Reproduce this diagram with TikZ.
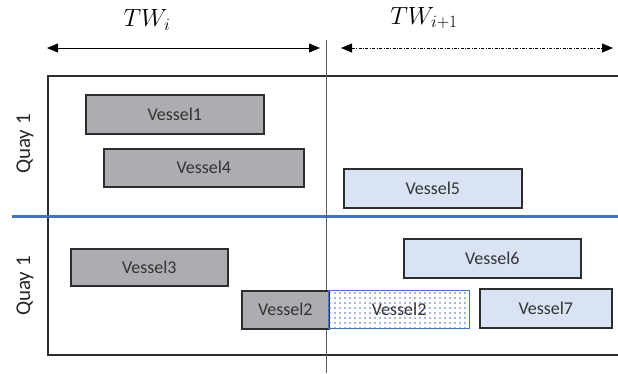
\documentclass[tikz,border=0pt]{standalone}
\usepackage{fontspec}
\setmainfont{Carlito}
\usetikzlibrary{arrows.meta,patterns.meta,positioning}
\definecolor{busygray}{RGB}{174,172,176}
\definecolor{nextblue}{RGB}{218,227,243}
\definecolor{quayblue}{RGB}{68,114,196}
\definecolor{edgegray}{RGB}{45,45,45}
\tikzstyle{Busy} = [draw=edgegray, line width=1.6pt, fill=busygray, rectangle, inner sep=0pt, anchor=north west, font=\fontsize{18}{18}\selectfont, text=black!80]
\tikzstyle{Next} = [Busy, fill=nextblue]
\tikzstyle{Shift} = [Busy, draw=quayblue, line width=1.3pt, pattern={Dots[distance=5pt,radius=0.9pt]}, pattern color=quayblue]
\tikzstyle{Quay} = [rotate=90, font=\fontsize{21}{21}\selectfont, text=black!85]
\tikzstyle{Span} = [{Triangle[length=11pt,width=9pt]}-{Triangle[length=11pt,width=9pt]}, line width=0.8pt, black]

\begin{document}
\begin{tikzpicture}[x=1pt, y=-1pt]
    \useasboundingbox (0,0) rectangle (618,373);
    % time windows
    \node (twi)  at (147,20) {\fontsize{23}{23}\selectfont $TW_i$};
    \node (twn)  at (424,18) {\fontsize{23}{23}\selectfont $TW_{i+1}$};
    \coordinate (a1) at (47,48);
    \coordinate (b1) at (320,48);
    \coordinate (a2) at (341,48);
    \coordinate (b2) at (613,48);
    \draw[Span] (a1) -- (b1);
    \draw[Span, dash pattern=on 3pt off 1.5pt on 0.8pt off 1.5pt] (a2) -- (b2);
    % frame
    \coordinate (tl) at (48,76);
    \coordinate (tr) at (618,76);
    \coordinate (bl) at (48,355);
    \coordinate (br) at (618,355);
    \draw[line width=1.6pt, edgegray] (tr) -- (tl) -- (bl) -- (br);
    \coordinate (ql) at (12,216);
    \coordinate (qr) at (618,216);
    \draw[line width=3pt, quayblue] (ql) -- (qr);
    \coordinate (dt) at (326,40);
    \coordinate (db) at (326,373);
    \draw[line width=0.8pt, black!65] (dt) -- (db);
    \node[Quay] (quay1) at (25,144) {Quay 1};
    \node[Quay] (quay2) at (25,286) {Quay 1};
    % vessels
    \node[Busy, minimum width=178pt, minimum height=39pt] (v1) at (85,94)   {Vessel1};
    \node[Busy, minimum width=200pt, minimum height=38pt] (v4) at (103,148) {Vessel4};
    \node[Busy, minimum width=157pt, minimum height=37pt] (v3) at (70,248)  {Vessel3};
    \node[Busy, minimum width=87pt,  minimum height=38pt] (v2) at (241,290) {Vessel2};
    \node[Shift, minimum width=141pt, minimum height=38pt] (v2n) at (328,290) {Vessel2};
    \node[Next, minimum width=178pt, minimum height=39pt] (v5) at (343,168) {Vessel5};
    \node[Next, minimum width=177pt, minimum height=39pt] (v6) at (403,238) {Vessel6};
    \node[Next, minimum width=132pt, minimum height=39pt] (v7) at (479,288) {Vessel7};
\end{tikzpicture}
\end{document}
